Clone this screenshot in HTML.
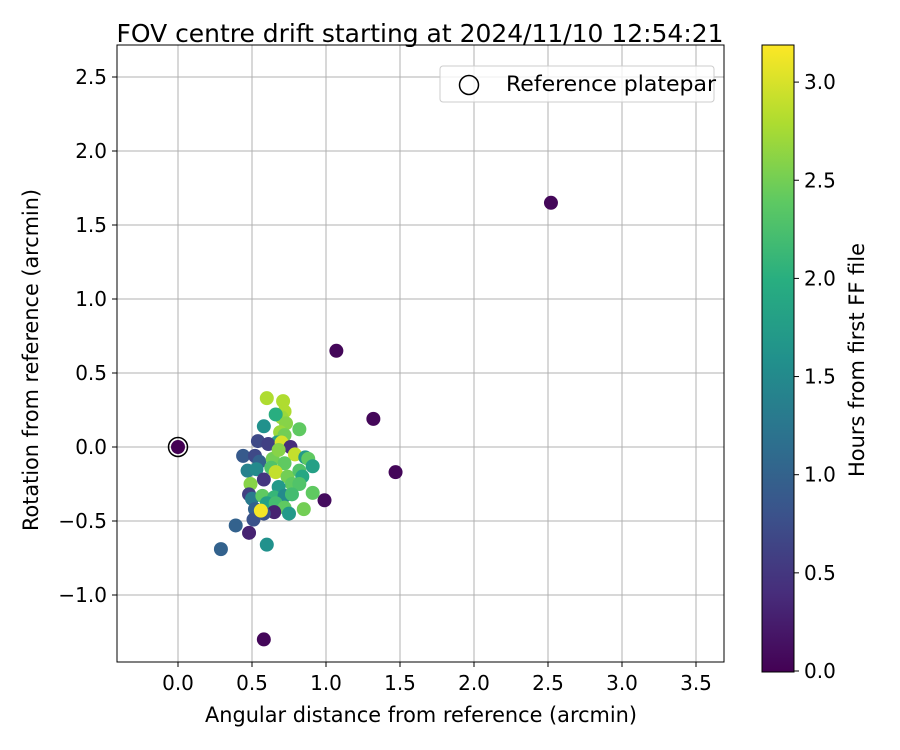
<!DOCTYPE html>
<html><head><meta charset="utf-8"><style>
body{margin:0;background:#fff}
svg{display:block;font-family:"DejaVu Sans","Liberation Sans",sans-serif}
</style></head><body>
<svg id="c" width="900" height="750" viewBox="0 0 900 750" xmlns="http://www.w3.org/2000/svg">
<defs>
<linearGradient id="vir" x1="0" y1="1" x2="0" y2="0">
<stop offset="0" stop-color="#440154"/><stop offset="0.125" stop-color="#472d7b"/><stop offset="0.25" stop-color="#3b528b"/><stop offset="0.375" stop-color="#2c728e"/><stop offset="0.5" stop-color="#21918c"/><stop offset="0.625" stop-color="#28ae80"/><stop offset="0.75" stop-color="#5ec962"/><stop offset="0.875" stop-color="#addc30"/><stop offset="1" stop-color="#fde725"/>
</linearGradient>
<clipPath id="clip"><rect x="117" y="45" width="607" height="617"/></clipPath>
</defs>
<text x="420" y="42" text-anchor="middle" font-size="25" textLength="607" lengthAdjust="spacingAndGlyphs">FOV centre drift starting at 2024/11/10 12:54:21</text>
<g id="grid"></g>
<g id="pts" clip-path="url(#clip)"></g>
<rect x="117" y="45" width="607" height="617" fill="none" stroke="#000" stroke-width="1"/>
<g id="ticks"></g>
<text x="421" y="722" text-anchor="middle" font-size="21" textLength="432" lengthAdjust="spacingAndGlyphs">Angular distance from reference (arcmin)</text>
<text transform="translate(38,360) rotate(-90)" text-anchor="middle" font-size="21" textLength="342" lengthAdjust="spacingAndGlyphs">Rotation from reference (arcmin)</text>
<g>
<rect x="440" y="66" width="274" height="36" rx="3" fill="#fff" fill-opacity="0.8" stroke="#ccc"/>
<circle cx="469" cy="85" r="9.5" fill="none" stroke="#000" stroke-width="1.5"/>
<text x="506" y="91" font-size="21" textLength="210" lengthAdjust="spacingAndGlyphs">Reference platepar</text>
</g>
<rect x="762" y="45" width="32" height="627" fill="url(#vir)" stroke="#000" stroke-width="1"/>
<g id="cbt"></g>
<text transform="translate(864,360) rotate(-90)" text-anchor="middle" font-size="21" textLength="234" lengthAdjust="spacingAndGlyphs">Hours from first FF file</text>
</svg>
<script>
const xTicks=[0,0.5,1,1.5,2,2.5,3,3.5];
const yTicks=[-1,-0.5,0,0.5,1,1.5,2,2.5];
const cTicks=[0,0.5,1,1.5,2,2.5,3];
const ptX=[2.52,1.07,1.32,1.47,0.99,0.58,0.48,0.29,0.39,0.60,0.60,0.71,0.72,0.70,0.66,0.58,0.73,0.82,0.69,0.72,0.67,0.54,0.61,0.70,0.76,0.44,0.52,0.55,0.64,0.68,0.79,0.86,0.88,0.91,0.47,0.53,0.63,0.72,0.66,0.74,0.82,0.84,0.58,0.49,0.77,0.82,0.68,0.48,0.50,0.57,0.65,0.72,0.77,0.91,0.60,0.66,0.72,0.85,0.52,0.65,0.75,0.58,0.51,0.56,0];
const ptY=[1.65,0.65,0.19,-0.17,-0.36,-1.30,-0.58,-0.69,-0.53,-0.66,0.33,0.31,0.24,0.20,0.22,0.14,0.16,0.12,0.10,0.08,0.03,0.04,0.02,0.03,0.00,-0.06,-0.06,-0.10,-0.08,-0.02,-0.05,-0.07,-0.08,-0.13,-0.16,-0.15,-0.14,-0.11,-0.17,-0.20,-0.16,-0.20,-0.22,-0.25,-0.25,-0.25,-0.27,-0.32,-0.35,-0.33,-0.34,-0.33,-0.32,-0.31,-0.38,-0.38,-0.41,-0.42,-0.42,-0.44,-0.45,-0.45,-0.49,-0.43,0];
const ptH=[0.05,0.05,0.05,0.05,0.1,0.05,0.3,1.0,1.0,1.6,2.8,2.8,2.8,2.7,2.0,1.6,2.6,2.4,2.7,2.5,1.8,0.7,0.6,3.0,0.4,0.9,0.7,1.0,2.5,2.6,2.9,1.7,2.4,1.8,1.4,1.5,2.3,2.4,2.9,2.5,2.3,1.9,0.5,2.6,2.4,2.3,1.7,0.6,1.3,2.4,2.1,1.5,2.2,2.4,1.8,2.2,2.4,2.5,1.0,0.3,1.7,0.8,0.8,3.15,0];
const X0=178,XS=148,Y0=447,YS=148,C0=671,CS=196.3,CMAX=3.19;
const sx=v=>X0+v*XS, sy=v=>Y0-v*YS, sc=v=>C0-v*CS;
const V=[[68,1,84],[71,45,123],[59,82,139],[44,114,142],[33,145,140],[40,174,128],[94,201,98],[173,220,48],[253,231,37]];
function vir(h){let t=Math.max(0,Math.min(1,h/CMAX))*8,i=Math.min(7,Math.floor(t)),f=t-i;
return 'rgb('+V[i].map((c,k)=>Math.round(c+(V[i+1][k]-c)*f)).join(',')+')';}
const NS='http://www.w3.org/2000/svg';
function mk(p,t,a,txt){const e=document.createElementNS(NS,t);for(const k in a)e.setAttribute(k,a[k]);if(txt!=null)e.textContent=txt;p.appendChild(e);return e;}
const fmt=v=>(v<0?'\u2212':'')+Math.abs(v).toFixed(1);
const G=document.getElementById('grid'),T=document.getElementById('ticks'),P=document.getElementById('pts'),CB=document.getElementById('cbt');
xTicks.forEach(v=>{const x=sx(v);
const g=mk(G,'line',{x1:x,x2:x,y1:45,y2:662,stroke:'#b0b0b0','stroke-width':1});


mk(T,'line',{x1:x,x2:x,y1:662,y2:667,stroke:'#000'});
const t=mk(T,'text',{x:x,y:690,'text-anchor':'middle','font-size':20},fmt(v));

});
yTicks.forEach(v=>{const y=sy(v);
const g=mk(G,'line',{x1:117,x2:724,y1:y,y2:y,stroke:'#b0b0b0','stroke-width':1});


mk(T,'line',{x1:112,x2:117,y1:y,y2:y,stroke:'#000'});
const t=mk(T,'text',{x:107,y:y+7,'text-anchor':'end','font-size':20},fmt(v));

});
cTicks.forEach(v=>{const y=sc(v);
mk(CB,'line',{x1:794,x2:799,y1:y,y2:y,stroke:'#000'});
const t=mk(CB,'text',{x:804,y:y+7,'font-size':20},v.toFixed(1));

});
ptX.forEach((x,i)=>{
const c=mk(P,'circle',{cx:sx(x),cy:sy(ptY[i]),r:7,fill:vir(ptH[i])});

});
const r=mk(P,'circle',{cx:sx(0),cy:sy(0),r:9.5,fill:'none',stroke:'#000','stroke-width':1.5});


</script>
</body></html>
